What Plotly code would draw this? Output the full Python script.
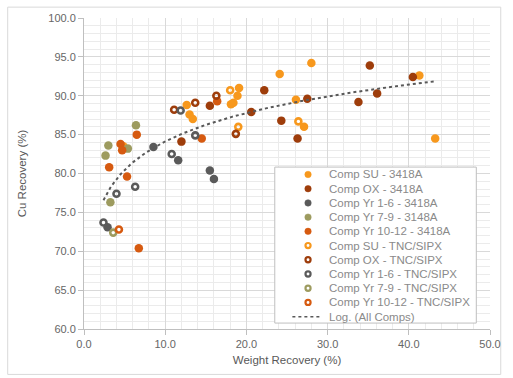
import numpy as np
import plotly.graph_objects as go

# ---------------- data ----------------
su_3418a_x = [4.85, 12.65, 13.0, 13.4, 18.1, 18.4, 18.9, 19.1, 24.1, 26.1, 27.1, 28.0, 41.3, 43.25]
su_3418a_y = [83.5, 88.8, 87.6, 87.0, 88.9, 89.1, 90.0, 91.0, 92.8, 89.5, 86.0, 94.2, 92.6, 84.5]

ox_3418a_x = [12.0, 15.5, 20.6, 22.2, 24.3, 26.3, 27.5, 33.8, 35.2, 36.1, 40.5]
ox_3418a_y = [84.1, 88.7, 87.9, 90.7, 86.8, 84.5, 89.6, 89.2, 93.9, 90.3, 92.4]

yr16_3418a_x = [2.9, 8.55, 11.6, 15.5, 16.0]
yr16_3418a_y = [73.1, 83.4, 81.7, 80.4, 79.3]

yr79_3148a_x = [2.65, 3.0, 3.25, 5.4, 6.4]
yr79_3148a_y = [82.3, 83.6, 76.3, 83.2, 86.2]

yr1012_3418a_x = [3.1, 4.5, 4.7, 5.3, 6.5, 6.75, 14.5, 16.4]
yr1012_3418a_y = [80.8, 83.8, 83.0, 79.6, 85.0, 70.4, 84.5, 89.3]

su_tnc_x = [18.0, 19.0, 26.4]
su_tnc_y = [90.7, 86.0, 86.7]

ox_tnc_x = [11.1, 13.7, 16.3, 18.7]
ox_tnc_y = [88.2, 89.1, 90.0, 85.1]

yr16_tnc_x = [2.4, 4.0, 6.3, 10.8, 11.9, 13.7]
yr16_tnc_y = [73.7, 77.4, 78.3, 82.5, 88.1, 84.9]

yr79_tnc_x = [3.6]
yr79_tnc_y = [72.4]

yr1012_tnc_x = [4.3]
yr1012_tnc_y = [72.8]

series_names = [
    "Comp SU - 3418A", "Comp OX - 3418A", "Comp Yr 1-6 - 3418A", "Comp Yr 7-9 - 3148A",
    "Comp Yr 10-12 - 3418A", "Comp SU - TNC/SIPX", "Comp OX - TNC/SIPX",
    "Comp Yr 1-6 - TNC/SIPX", "Comp Yr 7-9 - TNC/SIPX", "Comp Yr 10-12 - TNC/SIPX",
]
trend_name = "Log. (All Comps)"

x_title = "Weight Recovery (%)"
y_title = "Cu Recovery (%)"

# ---------------- styles ----------------
C_SU = "#F7981D"
C_OX = "#9E3D0B"
C_16 = "#5A5A5A"
C_79 = "#9D9B5F"
C_1012 = "#D65A10"

series = [
    (su_3418a_x, su_3418a_y, C_SU, False),
    (ox_3418a_x, ox_3418a_y, C_OX, False),
    (yr16_3418a_x, yr16_3418a_y, C_16, False),
    (yr79_3148a_x, yr79_3148a_y, C_79, False),
    (yr1012_3418a_x, yr1012_3418a_y, C_1012, False),
    (su_tnc_x, su_tnc_y, C_SU, True),
    (ox_tnc_x, ox_tnc_y, C_OX, True),
    (yr16_tnc_x, yr16_tnc_y, C_16, True),
    (yr79_tnc_x, yr79_tnc_y, C_79, True),
    (yr1012_tnc_x, yr1012_tnc_y, C_1012, True),
]

W, H = 513, 378
ML, MR, MT, MB = 84, 14, 14, 49
PW, PH = W - ML - MR, H - MT - MB


def pxx(px):
    return (px - ML) / PW


def pxy(py):
    return (H - MB - py) / PH


fig = go.Figure()

for (xs, ys, col, is_open), name in zip(series, series_names):
    if is_open:
        marker = dict(symbol="circle-open", size=6, color=col, line=dict(color=col, width=2.6))
    else:
        marker = dict(symbol="circle", size=8.5, color=col, line=dict(width=0))
    fig.add_trace(go.Scatter(x=xs, y=ys, mode="markers", name=name, marker=marker,
                             showlegend=False))

# logarithmic trendline fitted to all comps
all_x = np.concatenate([np.array(s[0], dtype=float) for s in series])
all_y = np.concatenate([np.array(s[1], dtype=float) for s in series])
a, b = np.polyfit(np.log(all_x), all_y, 1)
tx = np.linspace(all_x.min(), all_x.max(), 200)
ty = a * np.log(tx) + b
fig.add_trace(go.Scatter(x=tx, y=ty, mode="lines", name=trend_name,
                         line=dict(color="#595959", width=2, dash="dot"),
                         showlegend=False, hoverinfo="skip"))

shapes = []
annotations = []

# outer chart border
shapes.append(dict(type="rect", xref="paper", yref="paper",
                   x0=pxx(6), x1=pxx(510), y0=pxy(375), y1=pxy(3),
                   line=dict(color="#D9D9D9", width=1), fillcolor="rgba(0,0,0,0)",
                   layer="below"))

# legend box (drawn manually to match compact Excel spacing)
LX0, LX1, LY0, LY1 = 279, 485, 165, 323
shapes.append(dict(type="rect", xref="paper", yref="paper",
                   x0=pxx(LX0), x1=pxx(LX1), y0=pxy(LY1), y1=pxy(LY0),
                   line=dict(color="#BFBFBF", width=1), fillcolor="white", layer="above"))

row0, rowh = 172.5, 14.4
mx, tx0 = 313, 332
for i, ((xs, ys, col, is_open), name) in enumerate(zip(series, series_names)):
    cy = row0 + i * rowh
    if is_open:
        r = 2.6
        shapes.append(dict(type="circle", xref="paper", yref="paper",
                           x0=pxx(mx - r), x1=pxx(mx + r), y0=pxy(cy + r), y1=pxy(cy - r),
                           line=dict(color=col, width=2.2), fillcolor="white", layer="above"))
    else:
        r = 3.3
        shapes.append(dict(type="circle", xref="paper", yref="paper",
                           x0=pxx(mx - r), x1=pxx(mx + r), y0=pxy(cy + r), y1=pxy(cy - r),
                           line=dict(color=col, width=0.5), fillcolor=col, layer="above"))
    annotations.append(dict(xref="paper", yref="paper", x=pxx(tx0), y=pxy(cy),
                            xanchor="left", yanchor="middle", showarrow=False, text=name,
                            font=dict(family="Liberation Sans, Arial", size=11.5, color="#8A8A8A")))
cy = row0 + 10 * rowh
shapes.append(dict(type="line", xref="paper", yref="paper",
                   x0=pxx(297), x1=pxx(327), y0=pxy(cy), y1=pxy(cy),
                   line=dict(color="#595959", width=1.5, dash="dot"), layer="above"))
annotations.append(dict(xref="paper", yref="paper", x=pxx(tx0), y=pxy(cy),
                        xanchor="left", yanchor="middle", showarrow=False, text=trend_name,
                        font=dict(family="Liberation Sans, Arial", size=11.5, color="#8A8A8A")))

axis_common = dict(
    showline=True, linecolor="#BFBFBF", linewidth=1,
    ticks="outside", ticklen=5, tickcolor="#BFBFBF",
    showgrid=True, gridcolor="#D9D9D9", gridwidth=1,
    zeroline=False, tickformat=".1f",
    tickfont=dict(family="Liberation Sans, Arial", size=11, color="#666666"),
    mirror=False, automargin=True,
)

fig.update_layout(
    width=W, height=H,
    margin=dict(l=ML, r=MR, t=MT, b=MB),
    paper_bgcolor="white", plot_bgcolor="white",
    showlegend=False,
    xaxis=dict(range=[0, 50], dtick=10,
               minor=dict(dtick=2, showgrid=True, gridcolor="#EBEBEB", ticks=""),
               title=dict(text=x_title, standoff=6,
                          font=dict(family="Liberation Sans, Arial", size=11.5, color="#595959")),
               **axis_common),
    yaxis=dict(range=[60, 100], dtick=5,
               minor=dict(dtick=1, showgrid=True, gridcolor="#EBEBEB", ticks=""),
               title=dict(text=y_title, standoff=19,
                          font=dict(family="Liberation Sans, Arial", size=11.5, color="#595959")),
               **axis_common),
    shapes=shapes,
    annotations=annotations,
)

fig.write_html("out.html")
